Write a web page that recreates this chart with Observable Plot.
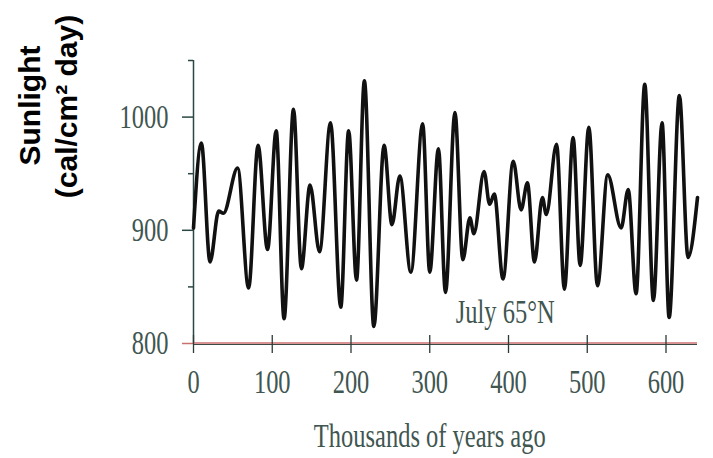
<!DOCTYPE html>
<html>
<head>
<meta charset="utf-8">
<script src="https://cdn.jsdelivr.net/npm/d3@7"></script>
<script src="https://cdn.jsdelivr.net/npm/@observablehq/plot@0.6"></script>
<style>
  html, body { margin: 0; padding: 0; background: #fff; }
</style>
</head>
<body>
<div id="chart"></div>
<script>
// Thousands of years ago
const years = [0, 10, 21, 32, 38, 56, 70, 82, 94, 105, 115, 127, 137, 148, 160, 174, 187, 197, 207,
  217, 229, 242, 252, 262, 276, 291, 300, 311, 320, 332, 342, 351, 356, 369, 376, 382, 393,
  406, 416, 424, 433, 443, 448, 461, 471, 482, 491, 502, 513, 526, 543, 552, 562, 573, 584,
  595, 604, 617, 628, 640];
// July insolation at 65°N (cal/cm² day)
const sunlight = [902, 977, 872, 917, 915, 955, 849, 975, 883, 988, 822, 1007, 866, 940, 881, 995, 832, 988, 856,
  1032, 815, 975, 905, 948, 863, 994, 863, 972, 845, 1004, 874, 911, 897, 952, 923, 932, 857,
  961, 918, 942, 872, 929, 914, 976, 848, 982, 869, 991, 851, 949, 902, 936, 844, 1029, 838,
  995, 823, 1019, 876, 929];

const xTicks = [0, 100, 200, 300, 400, 500, 600];
const yTicks = [900, 1000];
const yBase = [800];
const yMinor = [850, 950, 1050];
const xDomain = [0, 640];
const yDomain = [800, 1050];

const xTitle = "Thousands of years ago";
const xTitleAt = 300;
const yTitle1 = "Sunlight";
const yTitle2 = "(cal/cm² day)";
const annotation = ["July 65°N"];
const annotationX = 333;
const annotationY = 828;

const data = years.map((x, i) => ({x, y: sunlight[i]}));

const axisColor = "#2b4743";
const textColor = "#3f5651";
const baseRed = "#cc6f6f";
const fmt = d => String(d);

const chart = Plot.plot({
  width: 713,
  height: 458,
  marginLeft: 193,
  marginRight: 16,
  marginTop: 60,
  marginBottom: 115,
  x: {domain: xDomain},
  y: {domain: yDomain},
  style: {fontFamily: "'Liberation Serif', serif", fontSize: "34px", color: textColor, background: "#fff"},
  marks: [
    Plot.ruleX([0], {stroke: axisColor, strokeWidth: 1.5}),
    Plot.axisY({ticks: yTicks, tickSize: 11, tickPadding: 14, tickFormat: fmt, stroke: axisColor, fill: textColor, strokeWidth: 1.5, label: null}),
    Plot.axisY({ticks: yBase, tickSize: 11, tickPadding: 14, tickFormat: fmt, stroke: baseRed, fill: textColor, strokeWidth: 1.5, label: null}),
    Plot.axisY({ticks: yMinor, tickSize: 5, tickFormat: () => "", stroke: axisColor, strokeWidth: 1.5, label: null}),
    Plot.ruleY(yBase, {stroke: "#3a4a47", strokeWidth: 1.2, dy: 1}),
    Plot.ruleY(yBase, {stroke: baseRed, strokeWidth: 1.5, dy: -0.5}),
    Plot.axisX({ticks: xTicks, tickSize: 18, dy: -8, tickFormat: () => "", stroke: "#2b3b38", strokeWidth: 1.3, label: null}),
    Plot.axisX({ticks: xTicks, tickSize: 0, tickPadding: 25, tickFormat: fmt, fill: textColor, label: null}),
    Plot.line(data, {x: "x", y: "y", curve: "monotone-x", stroke: "#111", strokeWidth: 3.6}),
    Plot.text(annotation, {x: annotationX, y: annotationY, text: d => d, textAnchor: "start", fill: textColor, fontSize: 34}),
    Plot.text([xTitle], {x: xTitleAt, frameAnchor: "bottom", lineAnchor: "middle", text: d => d, dy: 93, fill: textColor, fontSize: 34}),
    Plot.text([yTitle1], {frameAnchor: "top-left", lineAnchor: "middle", text: d => d, rotate: -90, textAnchor: "middle", dx: -163, dy: 45,
      fontFamily: "'Liberation Sans', Arial, sans-serif", fontWeight: "bold", fontSize: 30, fill: "#000"}),
    Plot.text([yTitle2], {frameAnchor: "top-left", lineAnchor: "middle", text: d => d, rotate: -90, textAnchor: "middle", dx: -126, dy: 46,
      fontFamily: "'Liberation Sans', Arial, sans-serif", fontWeight: "bold", fontSize: 30, fill: "#000"})
  ]
});

document.getElementById("chart").appendChild(chart);

// Condense the serif texts horizontally (the original uses a condensed serif face)
const keepWide = new Set([yTitle1, yTitle2]);
chart.querySelectorAll("text").forEach(el => {
  const s = el.textContent;
  if (!s || keepWide.has(s)) return;
  const w = el.getComputedTextLength();
  if (w > 0) {
    el.setAttribute("textLength", (w * 0.72).toFixed(1));
    el.setAttribute("lengthAdjust", "spacingAndGlyphs");
  }
});
</script>
</body>
</html>
